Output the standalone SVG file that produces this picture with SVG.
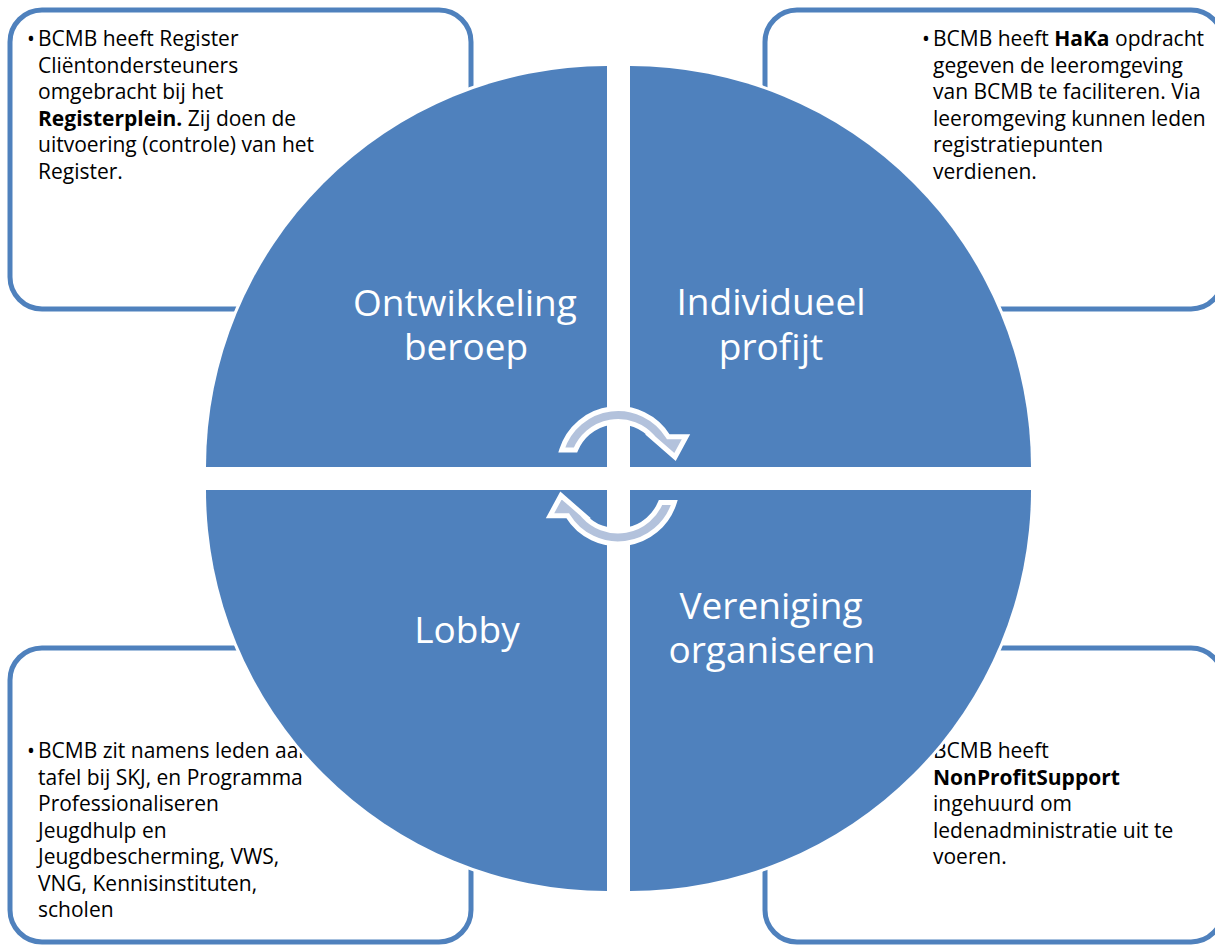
<svg xmlns="http://www.w3.org/2000/svg" width="1215" height="945" viewBox="0 0 1215 945">
<style>
.box{fill:#FFFFFF;stroke:#4F81BD;stroke-width:5}
.txt{font-family:"Open Sans","Liberation Sans",sans-serif;font-size:21px;fill:#000000}
.b{font-weight:bold}
.qhalo{fill:#FFFFFF;stroke:#FFFFFF;stroke-width:6;stroke-linejoin:round}
.q{fill:#4F81BD}
.lbl{font-family:"Open Sans","Liberation Sans",sans-serif;font-size:37px;fill:#FFFFFF;text-anchor:middle}
.arr{fill:#B3C2DC;stroke:#FFFFFF;stroke-width:5;stroke-linejoin:miter}
</style>
<defs>
<path id="cyc" d="M -56.3,-17.5 A 59 59 0 0 1 50.3,-30.8 L 68,-30.8 L 57,-10.5 L 33.7,-30.8 L 34.2,-30.8 A 46 46 0 0 0 -42.5,-17.5 Z"/>
</defs>
<rect width="1215" height="945" fill="#FFFFFF"/>
<g id="box-tl">
<rect class="box" x="10" y="10" width="461" height="299" rx="32"/>
<text class="txt" x="27" y="46">•</text>
<text class="txt"><tspan x="38" y="46">BCMB heeft Register</tspan><tspan x="38" y="72.5">Cliëntondersteuners</tspan><tspan x="38" y="99">omgebracht bij het</tspan><tspan x="38" y="125.5"><tspan class="b">Registerplein.</tspan> Zij doen de</tspan><tspan x="38" y="152">uitvoering (controle) van het</tspan><tspan x="38" y="178.5">Register.</tspan></text>
</g>
<g id="box-tr">
<rect class="box" x="765" y="10" width="458" height="299" rx="32"/>
<text class="txt" x="922" y="46">•</text>
<text class="txt"><tspan x="933" y="46">BCMB heeft <tspan class="b">HaKa</tspan> opdracht</tspan><tspan x="933" y="72.5">gegeven de leeromgeving</tspan><tspan x="933" y="99">van BCMB te faciliteren. Via</tspan><tspan x="933" y="125.5">leeromgeving kunnen leden</tspan><tspan x="933" y="152">registratiepunten</tspan><tspan x="933" y="178.5">verdienen.</tspan></text>
</g>
<g id="box-bl">
<rect class="box" x="10" y="648" width="461" height="294" rx="32"/>
<text class="txt" x="27" y="758">•</text>
<text class="txt"><tspan x="38" y="758">BCMB zit namens leden aan</tspan><tspan x="38" y="784.5">tafel bij SKJ, en Programma</tspan><tspan x="38" y="811">Professionaliseren</tspan><tspan x="38" y="837.5">Jeugdhulp en</tspan><tspan x="38" y="864">Jeugdbescherming, VWS,</tspan><tspan x="38" y="890.5">VNG, Kennisinstituten,</tspan><tspan x="38" y="917">scholen</tspan></text>
</g>
<g id="box-br">
<rect class="box" x="765" y="648" width="458" height="294" rx="32"/>
<text class="txt" x="922" y="758">•</text>
<text class="txt"><tspan x="933" y="758">BCMB heeft</tspan><tspan x="933" y="784.5" class="b">NonProfitSupport</tspan><tspan x="933" y="811">ingehuurd om</tspan><tspan x="933" y="837.5">ledenadministratie uit te</tspan><tspan x="933" y="864">voeren.</tspan></text>
</g>
<g id="quadrant-ontwikkeling">
<path class="qhalo" d="M 607,467 L 206,467 A 401 401 0 0 1 607,66 Z"/>
<path class="q" d="M 607,467 L 206,467 A 401 401 0 0 1 607,66 Z"/>
<text class="lbl"><tspan x="465" y="316">Ontwikkeling</tspan><tspan x="466" y="360">beroep</tspan></text>
</g>
<g id="quadrant-individueel">
<path class="qhalo" d="M 630,467 L 630,66 A 401 401 0 0 1 1031,467 Z"/>
<path class="q" d="M 630,467 L 630,66 A 401 401 0 0 1 1031,467 Z"/>
<text class="lbl"><tspan x="771" y="315">Individueel</tspan><tspan x="771" y="360">profijt</tspan></text>
</g>
<g id="quadrant-lobby">
<path class="qhalo" d="M 607,490 L 607,891 A 401 401 0 0 1 206,490 Z"/>
<path class="q" d="M 607,490 L 607,891 A 401 401 0 0 1 206,490 Z"/>
<text class="lbl" x="467" y="643">Lobby</text>
</g>
<g id="quadrant-vereniging">
<path class="qhalo" d="M 630,490 L 1031,490 A 401 401 0 0 1 630,891 Z"/>
<path class="q" d="M 630,490 L 1031,490 A 401 401 0 0 1 630,891 Z"/>
<text class="lbl"><tspan x="771" y="619">Vereniging</tspan><tspan x="772" y="663">organiseren</tspan></text>
</g>
<g id="connectors">
<use href="#cyc" class="arr" transform="translate(618,467.5)"/>
<use href="#cyc" class="arr" transform="translate(618,485) rotate(180)"/>
</g>
</svg>
